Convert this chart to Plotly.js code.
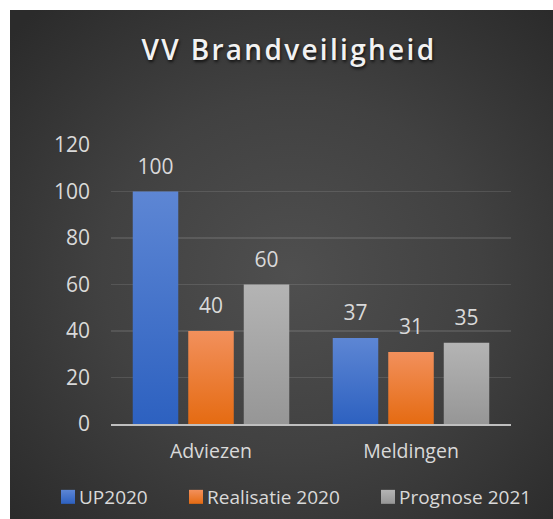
<!DOCTYPE html>
<html>
<head>
<meta charset="utf-8">
<script src="https://cdn.plot.ly/plotly-3.0.1.min.js"></script>
<style>
  html, body { margin: 0; padding: 0; background: #ffffff; }
  #chart {
    position: absolute; left: 10px; top: 10px; width: 543px; height: 509px;
    background: radial-gradient(ellipse 70% 70% at 52% 52%, #4f4f4f 0%, #414141 50%, #2b2b2b 100%);
  }
  #chart .gtitle { letter-spacing: 2.3px; }
</style>
</head>
<body>
<div id="chart"></div>
<script>
const categories = ["Adviezen", "Meldingen"];
const seriesNames = ["UP2020", "Realisatie 2020", "Prognose 2021"];
const up2020 = [100, 37];
const realisatie2020 = [40, 31];
const prognose2021 = [60, 35];
const yTickValues = [0, 20, 40, 60, 80, 100, 120];
const chartTitle = "VV Brandveiligheid";

const baseColors = ["#4472c4", "#ed7d31", "#a5a5a5"];
const gradStops = [["#5d86d4", "#2d61c0"], ["#f2905c", "#e56b12"], ["#b4b4b4", "#969696"]];
const seriesValues = [up2020, realisatie2020, prognose2021];
const legendIds = ["legend", "legend2", "legend3"];
const legendX = [29 / 543, 157 / 543, 349 / 543];
const labelColor = "#d9d9d9";

const traces = seriesValues.map((vals, i) => ({
  type: "bar",
  name: seriesNames[i],
  x: categories,
  y: vals,
  marker: { color: baseColors[i] },
  texttemplate: "%{y}",
  textposition: "outside",
  textfont: { family: "Open Sans", size: 21, color: labelColor },
  cliponaxis: false,
  legend: legendIds[i],
  hoverinfo: "none"
}));

const legendBase = (x) => ({
  orientation: "h",
  xref: "container", yref: "container",
  x: x, xanchor: "left",
  y: 1 - 487 / 509, yanchor: "middle",
  bgcolor: "rgba(0,0,0,0)",
  font: { family: "Open Sans", size: 19, color: labelColor }
});

const layout = {
  width: 543, height: 509,
  paper_bgcolor: "rgba(0,0,0,0)",
  plot_bgcolor: "rgba(0,0,0,0)",
  margin: { l: 101, r: 42, t: 135, b: 95 },
  title: {
    text: chartTitle,
    xref: "container", yref: "container",
    x: 279 / 543, xanchor: "center",
    y: 1 - 40 / 509, yanchor: "middle",
    font: { family: "Open Sans", size: 28, weight: 600, color: "#f2f2f2",
            shadow: "1px 2px 3px rgba(0,0,0,0.7)" }
  },
  barmode: "group",
  bargap: 0.1675,
  bargroupgap: 0.18,
  xaxis: {
    type: "category",
    showgrid: false,
    showline: true, linecolor: "#bfbfbf", linewidth: 2,
    ticks: "",
    ticklabelstandoff: 9,
    tickfont: { family: "Open Sans", size: 19.5, color: labelColor }
  },
  yaxis: {
    range: [0, 120],
    tickvals: yTickValues,
    showgrid: true, gridcolor: "rgba(255,255,255,0.11)", gridwidth: 1.5,
    zeroline: false,
    showline: false,
    ticks: "",
    ticklabelstandoff: 20,
    tickfont: { family: "Open Sans", size: 21, color: labelColor }
  },
  showlegend: true,
  legend: legendBase(legendX[0]),
  legend2: legendBase(legendX[1]),
  legend3: legendBase(legendX[2])
};

Plotly.newPlot("chart", traces, layout, { staticPlot: true, displayModeBar: false }).then(function (gd) {
  const svg = gd.querySelector(".main-svg");
  const NS = "http://www.w3.org/2000/svg";
  let defs = svg.querySelector("defs");
  if (!defs) { defs = document.createElementNS(NS, "defs"); svg.insertBefore(defs, svg.firstChild); }
  gradStops.forEach((st, i) => {
    const lg = document.createElementNS(NS, "linearGradient");
    lg.setAttribute("id", "barGrad" + i);
    lg.setAttribute("x1", "0"); lg.setAttribute("y1", "0");
    lg.setAttribute("x2", "0"); lg.setAttribute("y2", "1");
    [[0, st[0]], [1, st[1]]].forEach(([o, c]) => {
      const s = document.createElementNS(NS, "stop");
      s.setAttribute("offset", o); s.setAttribute("stop-color", c);
      lg.appendChild(s);
    });
    defs.appendChild(lg);
  });
  gd.querySelectorAll(".barlayer .trace.bars").forEach((tr, i) => {
    tr.querySelectorAll(".point path").forEach(p => { p.style.fill = "url(#barGrad" + i + ")"; });
    tr.querySelectorAll(".bartext").forEach(t => {
      t.setAttribute("transform", (t.getAttribute("transform") || "") + " translate(0,-9)");
    });
  });
  document.querySelectorAll("g.legendpoints").forEach(g => {
    const tr = g.closest("g.traces");
    let idx = 0;
    try { idx = tr.__data__[0].trace.index; } catch (e) { idx = 0; }
    g.setAttribute("transform", "translate(9,0)");
    g.querySelectorAll("path").forEach(p => {
      p.setAttribute("d", "M7,7H-7V-7H7Z");
      p.style.fill = "url(#barGrad" + idx + ")";
    });
  });
});
</script>
</body>
</html>
